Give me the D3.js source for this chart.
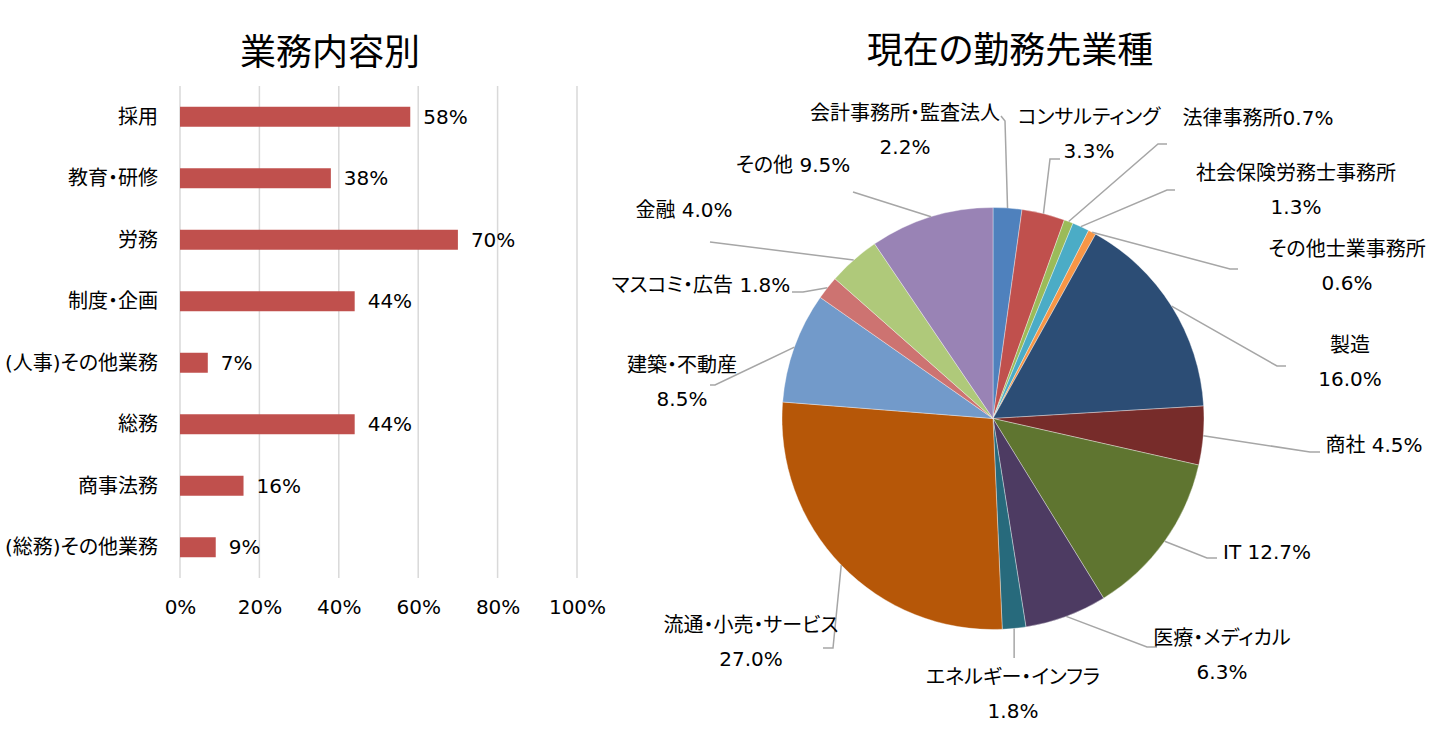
<!DOCTYPE html>
<html>
<head>
<meta charset="utf-8">
<script src="https://cdn.jsdelivr.net/npm/d3@7"></script>
<style>
  html, body { margin: 0; padding: 0; background: #fff; }
  svg { display: block; }
  text { font-family: "DejaVu Sans", "Noto Sans CJK JP", sans-serif; font-feature-settings: "palt"; fill: #000; }
</style>
</head>
<body>
<svg id="chart" width="1441" height="740"></svg>
<script>
// ---------- Data: bar chart (業務内容別) ----------
const barTitle = "業務内容別";
const barCategories = ["採用", "教育・研修", "労務", "制度・企画", "(人事)その他業務", "総務", "商事法務", "(総務)その他業務"];
const barValues = [0.58, 0.38, 0.70, 0.44, 0.07, 0.44, 0.16, 0.09];
const barTicks = [0, 0.2, 0.4, 0.6, 0.8, 1.0];

// ---------- Data: pie chart (現在の勤務先業種) ----------
const pieTitle = "現在の勤務先業種";
const pieCategories = ["会計事務所・監査法人", "コンサルティング", "法律事務所", "社会保険労務士事務所", "その他士業事務所",
  "製造", "商社", "IT", "医療・メディカル", "エネルギー・インフラ", "流通・小売・サービス", "建築・不動産",
  "マスコミ・広告", "金融", "その他"];
const pieValues = [2.2, 3.3, 0.7, 1.3, 0.6, 16.0, 4.5, 12.7, 6.3, 1.8, 27.0, 8.5, 1.8, 4.0, 9.5];
const pieColors = ["#4F81BD", "#C0504D", "#9BBB59", "#4BACC6", "#F79646", "#2C4D75", "#772C2A", "#5F7530",
  "#4D3B62", "#276A7C", "#B65708", "#729ACA", "#CD7371", "#AFC97A", "#9983B5"];

// ---------- Layout (label placement for pie, relative to pie centre) ----------
// mode: 2 = name / value on two lines, 1 = "name value" on one line, 0 = "namevalue"
const labelMode = [2, 2, 0, 2, 2, 2, 1, 1, 2, 2, 2, 2, 1, 1, 1];
// text centre [dx, dy] of first line
const labelPos = [[-88, -305.5], [96, -301.5], [265, -300.5], [303, -245.5], [354, -169.5], [357, -73.5],
  [381, 26.5], [274, 133.5], [229, 219.5], [20, 258.5], [-242, 206.5], [-311, -53.5], [-292, -133.5],
  [-309, -208.5], [-200, -253.5]];
// leader elbow and end [dx, dy]
const leaderElbow = [[12, -297.5], [57, -259.5], [165, -274.5], [174, -228.5], [237, -149.5], [284, -52.5],
  [317, 33.5], [214, 139.5], [154, 228.5], [null, 239.5], [-160, 229.5], [-278, -33.5], [-190, -126.5],
  [-283, -176.5], [-140, -226.5]];
const leaderEnd = [[8, -302.5], [67, -259.5], [174, -274.5], [182, -228.5], [245, -149.5], [293, -52.5],
  [327, 33.5], [224, 139.5], [164, 228.5], [null, 239.5], [-170, 229.5], [-283, -33.5], [-201, -126.5],
  [-283, -176.5], [-140, -226.5]];

const svg = d3.select("#chart");
svg.append("rect").attr("width", 1441).attr("height", 740).attr("fill", "#fff");

// ================= Bar chart =================
const bx0 = 180, bx1 = 577, by0 = 86, by1 = 578;
const x = d3.scaleLinear().domain([0, 1]).range([bx0, bx1]);
const y = d3.scaleBand().domain(barCategories).range([by0, by1]).paddingInner(0.675).paddingOuter(0.3375);

svg.append("text").attr("x", 330).attr("y", 52).attr("text-anchor", "middle")
  .attr("dominant-baseline", "central").style("font-size", "36px").text(barTitle);

const g = svg.append("g");
g.selectAll("line.grid").data(barTicks).join("line").attr("class", "grid")
  .attr("x1", d => x(d)).attr("x2", d => x(d)).attr("y1", by0).attr("y2", by1)
  .attr("stroke", "#D9D9D9").attr("stroke-width", 1.5);

const xAxis = d3.axisBottom(x).tickValues(barTicks).tickFormat(d3.format(".0%")).tickSize(0).tickPadding(0);
const ax = g.append("g").attr("transform", `translate(0,${by1})`).call(xAxis);
ax.select(".domain").remove();
ax.selectAll("text").attr("y", 29).attr("dy", null).attr("dominant-baseline", "central")
  .style("font-size", "20px").style("font-family", "\"DejaVu Sans\", sans-serif").attr("fill", "#000");

const yAxis = d3.axisLeft(y).tickSize(0).tickPadding(22);
const ay = g.append("g").attr("transform", `translate(${bx0},0)`).call(yAxis);
ay.select(".domain").remove();
ay.selectAll("text").attr("dy", null).attr("dominant-baseline", "central")
  .style("font-size", "20px").attr("fill", "#000");

g.selectAll("rect.bar").data(barValues).join("rect").attr("class", "bar")
  .attr("x", x(0)).attr("y", (d, i) => y(barCategories[i]))
  .attr("width", d => x(d) - x(0)).attr("height", y.bandwidth()).attr("fill", "#C0504D");

g.selectAll("text.val").data(barValues).join("text").attr("class", "val")
  .attr("x", d => x(d) + 13).attr("y", (d, i) => y(barCategories[i]) + y.bandwidth() / 2)
  .attr("dominant-baseline", "central").style("font-size", "20px")
  .text(d => d3.format(".0%")(d));

// ================= Pie chart =================
const cx = 993, cy = 418.5, r = 211;
svg.append("text").attr("x", 1010).attr("y", 50).attr("text-anchor", "middle")
  .attr("dominant-baseline", "central").style("font-size", "36px").text(pieTitle);

const pie = d3.pie().sort(null).value(d => d);
const arcs = pie(pieValues);
const arc = d3.arc().innerRadius(0).outerRadius(r);
const pg = svg.append("g").attr("transform", `translate(${cx},${cy})`);

pg.selectAll("path.slice").data(arcs).join("path").attr("class", "slice")
  .attr("d", arc).attr("fill", (d, i) => pieColors[i])
  .attr("stroke", "rgba(255,255,255,0.45)").attr("stroke-width", 0.8);

// leader lines
pg.selectAll("polyline.leader").data(arcs).join("polyline").attr("class", "leader")
  .attr("points", (d, i) => {
    const a = (d.startAngle + d.endAngle) / 2;
    const sx = r * Math.sin(a), sy = -r * Math.cos(a);
    const e = leaderElbow[i], n = leaderEnd[i];
    const ex = e[0] === null ? sx : e[0], nx = n[0] === null ? sx : n[0];
    return [[sx, sy], [ex, e[1]], [nx, n[1]]].map(p => p.join(",")).join(" ");
  })
  .attr("fill", "none").attr("stroke", "#A6A6A6").attr("stroke-width", 1.5);

// labels
const fmtPct = d => d.toFixed(1) + "%";
const lbl = pg.selectAll("text.plabel").data(arcs).join("text").attr("class", "plabel")
  .attr("text-anchor", "middle").attr("dominant-baseline", "central").style("font-size", "20px");
lbl.each(function (d, i) {
  const t = d3.select(this);
  const [lx, ly] = labelPos[i];
  const name = pieCategories[i], val = fmtPct(pieValues[i]);
  if (labelMode[i] === 2) {
    t.append("tspan").attr("x", lx).attr("y", ly).text(name);
    t.append("tspan").attr("x", lx).attr("y", ly + 34).text(val);
  } else {
    t.attr("x", lx).attr("y", ly);
    t.append("tspan").text(name + (labelMode[i] === 1 ? " " : ""));
    t.append("tspan").text(val);
  }
});
</script>
</body>
</html>
